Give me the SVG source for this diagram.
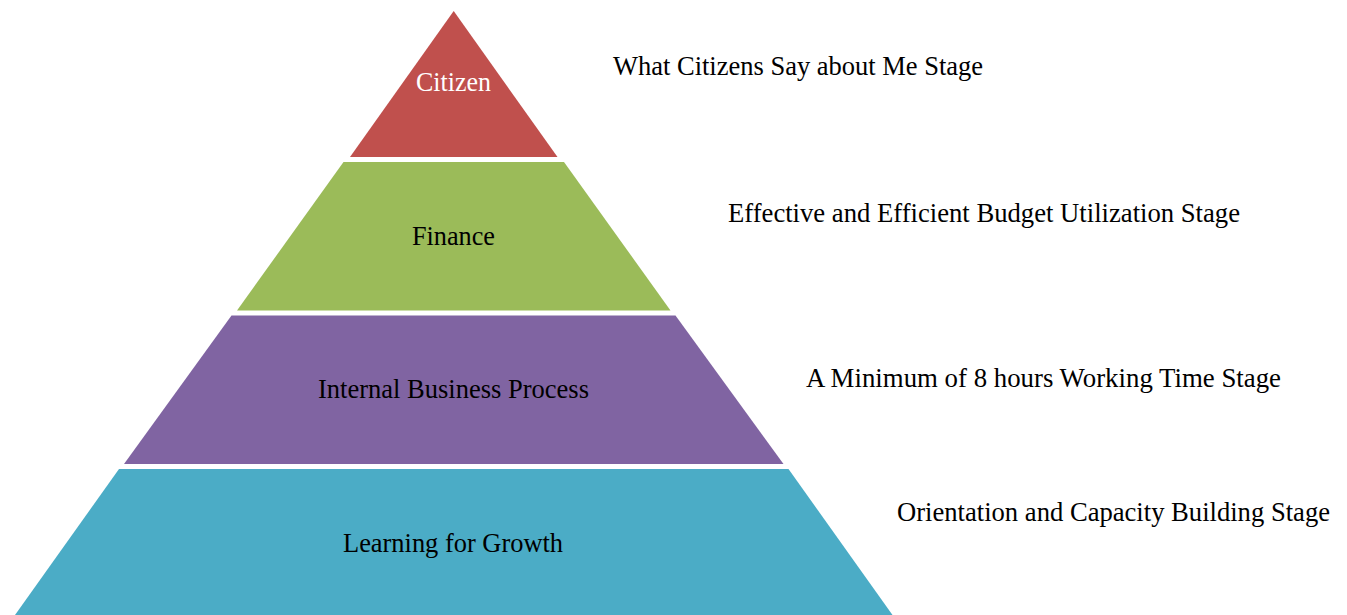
<svg xmlns="http://www.w3.org/2000/svg" width="1347" height="615" viewBox="0 0 1347 615">
  <style>
    .t { font-family: 'Liberation Serif', 'Times New Roman', Times, serif; font-size: 27px; fill: #000000; }
    .lbl { text-anchor: middle; }
    .white { fill: #ffffff; }
  </style>
  <rect x="0" y="0" width="1347" height="615" fill="#ffffff"/>
  <g id="node-citizen">
    <polygon points="453.7,11 557.5,157 350,157" fill="#C0504D"/>
    <text class="t lbl white" x="453.5" y="90.5" textLength="75" lengthAdjust="spacingAndGlyphs">Citizen</text>
  </g>
  <g id="node-finance">
    <polygon points="343.5,162 564,162 670.5,310.5 237,310.5" fill="#9BBB59"/>
    <text class="t lbl" x="453.5" y="244.5" textLength="83" lengthAdjust="spacingAndGlyphs">Finance</text>
  </g>
  <g id="node-internal">
    <polygon points="231.5,315.5 675.5,315.5 783.5,464 124,464" fill="#8064A2"/>
    <text class="t lbl" x="453.5" y="397.5" textLength="271" lengthAdjust="spacingAndGlyphs">Internal Business Process</text>
  </g>
  <g id="node-learning">
    <polygon points="119,469 788.5,469 892.5,615 15,615" fill="#4BACC6"/>
    <text class="t lbl" x="453" y="551.5" textLength="220" lengthAdjust="spacingAndGlyphs">Learning for Growth</text>
  </g>
  <g id="stage-labels">
    <text class="t" x="613" y="74.5" textLength="370" lengthAdjust="spacingAndGlyphs">What Citizens Say about Me Stage</text>
    <text class="t" x="728" y="221.5" textLength="512" lengthAdjust="spacingAndGlyphs">Effective and Efficient Budget Utilization Stage</text>
    <text class="t" x="806" y="386.5" textLength="475" lengthAdjust="spacingAndGlyphs">A Minimum of 8 hours Working Time Stage</text>
    <text class="t" x="897" y="520.5" textLength="433" lengthAdjust="spacingAndGlyphs">Orientation and Capacity Building Stage</text>
  </g>
  <g id="connectors"></g>
</svg>
